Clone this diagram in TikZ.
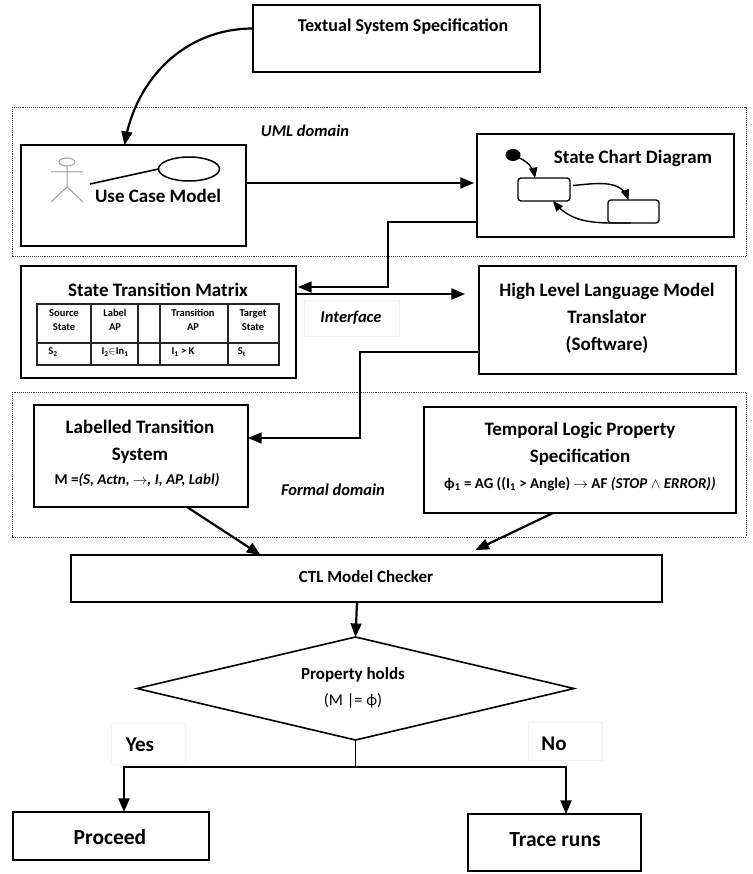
\documentclass[tikz,border=0pt]{standalone}
\usepackage{fontspec}
\setmainfont{Carlito}
\usetikzlibrary{arrows}
\usetikzlibrary{positioning}
\usetikzlibrary{shapes.geometric}
\definecolor{actorgray}{gray}{0.62}
\tikzstyle{base}=[x=1pt, y=-1pt, inner sep=0pt, outer sep=0pt, font=\bfseries\fontsize{19}{22}\selectfont, >=triangle 45]
\tikzstyle{block}=[draw=black, line width=1.9pt, fill=white, align=center]
\tikzstyle{domainbox}=[draw=black!75, line width=0.9pt, densely dotted]
\tikzstyle{faintbox}=[draw=black!5, line width=0.5pt]
\tikzstyle{flow}=[black, line width=2.2pt, ->]
\tikzstyle{tablerule}=[black!85, line width=1.2pt]
\tikzstyle{cell}=[font=\bfseries\fontsize{10.5}{14}\selectfont, align=center]
\tikzstyle{tag}=[font=\bfseries\itshape\fontsize{16.5}{19}\selectfont]
\tikzstyle{formula}=[font=\bfseries\fontsize{15}{18}\selectfont]
\tikzstyle{smalltext}=[font=\bfseries\fontsize{17}{20}\selectfont]
\tikzstyle{bigtext}=[font=\bfseries\fontsize{21.5}{24}\selectfont]

\begin{document}
\begin{tikzpicture}[base]
    \path [use as bounding box] (0,0) rectangle (752,874);
    % domains
    \draw [domainbox] (12,107) rectangle (746,256);
    \draw [domainbox] (12,392) rectangle (746,537);
    \node [tag] (umldomain) at (305,131) {UML domain};
    \node [tag] (formaldomain) at (333,490) {Formal domain};
    \node [faintbox, minimum width=95pt, minimum height=36pt] (interfacebox) at (352,318) {};
    \node [tag] (interface) at (351,318) {Interface};
    % blocks
    \node [block, minimum width=287pt, minimum height=67pt] (textual) at (396.5,38.5) {};
    \node [font=\bfseries\fontsize{18}{21}\selectfont] (textualtext) at (403,27) {Textual System Specification};
    \node [block, minimum width=225pt, minimum height=101pt] (usecase) at (133.5,195.5) {};
    \node [block, minimum width=257pt, minimum height=103pt] (statechart) at (605.5,185.5) {};
    \node [block, minimum width=275pt, minimum height=112pt] (matrix) at (158.5,322) {};
    \node [block, minimum width=257pt, minimum height=108pt] (highlevel) at (607.5,320) {};
    \node [block, minimum width=214pt, minimum height=102pt] (labelled) at (141,456) {};
    \node [block, minimum width=312pt, minimum height=106pt] (temporal) at (580,460) {};
    \node [block, minimum width=591pt, minimum height=47pt] (checker) at (366.5,578.5) {};
    \node [block, line width=1.6pt, diamond, aspect=4.2, minimum width=437pt, minimum height=103pt] (holds) at (355.5,688.5) {};
    \node [block, minimum width=196pt, minimum height=48pt] (proceed) at (111,836) {};
    \node [block, minimum width=173pt, minimum height=57pt] (trace) at (554.5,842.5) {};
    % texts of the blocks
    \node (usecasetext) at (158,196) {Use Case Model};
    \node (statecharttext) at (633,158) {State Chart Diagram};
    \node (matrixtext) at (158,290) {State Transition Matrix};
    \node (highleveltext) [align=center] at (607,318) {High Level Language Model\\[5pt]Translator\\[5pt](Software)};
    \node (labelledtext) [align=center] at (140,442) {Labelled Transition\\[5pt]System};
    \node [formula] (labelledformula) at (137,480) {M =\textit{(S, Actn, $\rightarrow$, I, AP, Labl)}};
    \node (temporaltext) [align=center] at (580,444) {Temporal Logic Property\\[5pt]Specification};
    \node [formula] (temporalformula) at (580,484) {ϕ\textsubscript{1} = AG ((I\textsubscript{1} > Angle) $\rightarrow$ AF \textit{(STOP $\wedge$ ERROR))}};
    \node [smalltext] (checkertext) at (366,577) {CTL Model Checker};
    \node [smalltext] (holdstext) at (353,675) {Property holds};
    \node [font=\fontsize{16.5}{19}\selectfont] (holdsformula) at (353,701) {(M |= ϕ)};
    \node [faintbox, minimum width=74pt, minimum height=41pt] (yesbox) at (148,743.5) {};
    \node [faintbox, minimum width=74pt, minimum height=38pt] (nobox) at (565,741) {};
    \node [font=\bfseries\fontsize{21}{24}\selectfont] (yes) at (140,745) {Yes};
    \node [font=\bfseries\fontsize{21}{24}\selectfont] (no) at (554,744) {No};
    \node [bigtext] (proceedtext) at (110,837) {Proceed};
    \node [bigtext] (tracetext) at (555,840) {Trace runs};
    % actor and use case
    \draw [actorgray, line width=1pt] (67,162) ellipse (8 and 4);
    \draw [actorgray, line width=1pt] (67,166) -- (67,187) (51,172) -- (83,172) (51,202) -- (67,187) -- (83,202);
    \node [draw=black, line width=1.5pt, ellipse, minimum width=61pt, minimum height=24pt] (usecaseoval) at (189,169) {};
    \coordinate (actorhand) at (90,184);
    \draw [black, line width=1.6pt] (actorhand) -- (usecaseoval.west);
    % state chart
    \node [fill=black, ellipse, minimum width=15pt, minimum height=12pt] (initial) at (513,155) {};
    \node [draw=black, line width=1.4pt, rounded corners=3pt, minimum width=52pt, minimum height=23pt] (statea) at (544,189.5) {};
    \node [draw=black, line width=1.4pt, rounded corners=3pt, fill=white, minimum width=51pt, minimum height=23pt] (stateb) at (633.5,211.5) {};
    \draw [black, line width=1.4pt, -triangle 45] (initial) to [out=-25, in=100] ([xshift=-9pt]statea.north);
    \draw [black, line width=1.4pt, -triangle 45] ([yshift=4pt, xshift=3pt]statea.east) to [out=5, in=110] ([xshift=-5pt]stateb.north);
    \draw [black, line width=1.4pt, -triangle 45] ([xshift=-3pt]stateb.south) to [out=180, in=-50] ([xshift=9pt]statea.south);
    % table of the matrix
    \draw [tablerule] (37,304) rectangle (279,365);
    \draw [tablerule] (37,343) -- (279,343);
    \foreach \x in {91,138,160,228} {
        \draw [tablerule] (\x,304) -- (\x,365);
    }
    \node [cell] (sourcehead) at (64,320) {Source\\State};
    \node [cell] (labelhead) at (115,320) {Label\\AP};
    \node [cell] (transitionhead) at (193,320) {Transition\\AP};
    \node [cell] (targethead) at (253,320) {Target\\State};
    \node [cell] (sourceval) at (53,352) {S\textsubscript{2}};
    \node [cell] (labelval) at (115,352) {I\textsubscript{2}$\in$In\textsubscript{1}};
    \node [cell] (transitionval) at (183,352) {I\textsubscript{1} > K};
    \node [cell] (targetval) at (242,352) {S\textsubscript{t}};
    % connectors
    \draw [flow] ([yshift=10pt]textual.west) to [out=180, in=80] ([xshift=-9pt]usecase.north);
    \draw [flow] ([yshift=12.5pt]usecase.east) -- ([yshift=2.5pt, xshift=-3pt]statechart.west);
    \draw [flow] ([yshift=-36.5pt]statechart.west) -- (388,222) -- (388,287) -- ([yshift=35pt, xshift=2pt]matrix.east);
    \draw [flow] ([yshift=28pt]matrix.east) -- ([yshift=26pt, xshift=-14pt]highlevel.west);
    \draw [flow] ([yshift=-32pt]highlevel.west) -- (360,352) -- (360,438) -- ([yshift=18pt]labelled.east);
    \draw [flow] ([xshift=46pt]labelled.south) -- ([xshift=-106pt]checker.north);
    \draw [flow] ([xshift=-27pt]temporal.south) -- ([xshift=109pt, yshift=5pt]checker.north);
    \draw [flow] ([xshift=-9.5pt]checker.south) -- (holds.north);
    \coordinate (split) at (355.5,767);
    \draw [black, line width=1.6pt] (holds.south) -- (split);
    \draw [flow] (split) -| ([xshift=13pt]proceed.north);
    \draw [flow] (split) -| ([xshift=11.5pt]trace.north);
\end{tikzpicture}
\end{document}
